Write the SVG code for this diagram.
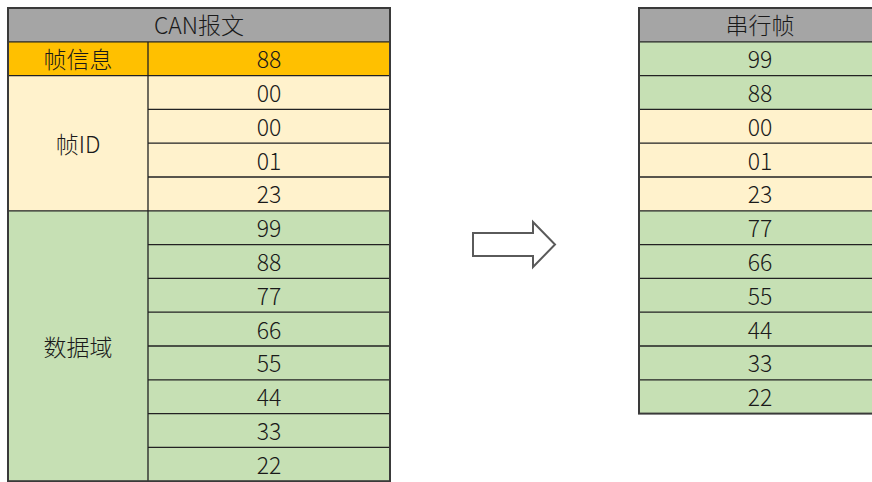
<svg xmlns="http://www.w3.org/2000/svg" width="872" height="482" viewBox="0 0 872 482">
<style>
.hd{fill:#A5A5A5}
.or{fill:#FFC000}
.yl{fill:#FFF2CC}
.gr{fill:#C6E0B4}
.ln{stroke:#222;stroke-width:1.3;fill:none}
.ob{stroke:#3a3a3a;stroke-width:2;fill:none}
text{font-family:"Noto Sans CJK SC","Noto Sans",sans-serif;font-size:23px;fill:#1a1a1a;text-anchor:middle;dominant-baseline:central;font-weight:300}
</style>
<rect width="872" height="482" fill="#fff"/>
<g id="left-table">
<rect class="hd" x="8" y="8" width="382" height="33.8"/>
<rect class="or" x="8" y="41.8" width="382" height="33.8"/>
<rect class="yl" x="8" y="75.6" width="382" height="135.2"/>
<rect class="gr" x="8" y="210.8" width="382" height="270.4"/>
<g class="ln">
<path d="M8,41.8H390M8,75.6H390M148,109.4H390M148,143.2H390M148,177H390M8,210.8H390M148,244.6H390M148,278.4H390M148,312.2H390M148,346H390M148,379.8H390M148,413.6H390M148,447.4H390M148,41.8V481.2"/>
</g>
<rect class="ob" x="8" y="8" width="382" height="473.2"/>
<text x="199" y="24.4">CAN报文</text>
<text x="78" y="58.2">帧信息</text>
<text x="269" y="58.2">88</text>
<text x="78" y="142.7">帧ID</text>
<text x="269" y="92">00</text>
<text x="269" y="125.8">00</text>
<text x="269" y="159.6">01</text>
<text x="269" y="193.4">23</text>
<text x="78" y="345.5">数据域</text>
<text x="269" y="227.2">99</text>
<text x="269" y="261">88</text>
<text x="269" y="294.8">77</text>
<text x="269" y="328.6">66</text>
<text x="269" y="362.4">55</text>
<text x="269" y="396.2">44</text>
<text x="269" y="430">33</text>
<text x="269" y="463.8">22</text>
</g>
<g id="arrow">
<path d="M473,233H533V222L555,244.5L533,267V256H473Z" fill="#fff" stroke="#5a5a5a" stroke-width="2" stroke-linejoin="miter"/>
</g>
<g id="right-table">
<rect class="hd" x="639" y="8" width="242" height="33.8"/>
<rect class="gr" x="639" y="41.8" width="242" height="67.6"/>
<rect class="yl" x="639" y="109.4" width="242" height="101.4"/>
<rect class="gr" x="639" y="210.8" width="242" height="202.8"/>
<g class="ln">
<path d="M639,41.8H881M639,75.6H881M639,109.4H881M639,143.2H881M639,177H881M639,210.8H881M639,244.6H881M639,278.4H881M639,312.2H881M639,346H881M639,379.8H881"/>
</g>
<rect class="ob" x="639" y="8" width="242" height="405.6"/>
<text x="760" y="24.4">串行帧</text>
<text x="760" y="58.2">99</text>
<text x="760" y="92">88</text>
<text x="760" y="125.8">00</text>
<text x="760" y="159.6">01</text>
<text x="760" y="193.4">23</text>
<text x="760" y="227.2">77</text>
<text x="760" y="261">66</text>
<text x="760" y="294.8">55</text>
<text x="760" y="328.6">44</text>
<text x="760" y="362.4">33</text>
<text x="760" y="396.2">22</text>
</g>
</svg>
